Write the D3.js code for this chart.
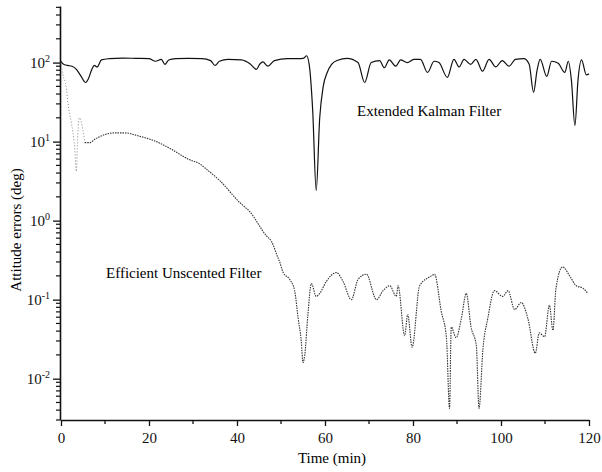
<!DOCTYPE html>
<html>
<head>
<meta charset="utf-8">
<script src="https://cdn.jsdelivr.net/npm/d3@7"></script>
<style>
  body { margin: 0; background: #fff; }
  svg { display: block; font-family: "Liberation Serif", "Times New Roman", serif; }
</style>
</head>
<body>
<svg id="chart" width="602" height="472"></svg>
<script>
// Extended Kalman Filter attitude error (deg)
const ekfTime = [0, 0.5, 1.5, 2.5, 3.5, 4.5, 5.6, 6.2, 7, 7.6,
  8.2, 9.2, 11, 14, 17, 20, 21.5, 22.8, 23.6, 24.5,
  26, 29, 32, 34, 35, 36, 38, 41, 43, 44.4,
  45.2, 45.9, 47, 48.5, 51.5, 54, 55.2, 55.8, 56.4, 57.2,
  58, 58.8, 59.6, 60.5, 61.5, 62.9, 65, 67.5, 69, 70.5,
  72.4, 73.5, 74.6, 76.1, 77.2, 78.7, 80.2, 81.7, 83.3, 84.8,
  85.9, 87.8, 89.3, 90.5, 91.6, 93.1, 94.3, 95.8, 97.3, 98.8,
  100.3, 101.8, 103.3, 105.2, 106.4, 107.4, 108.2, 108.9, 110.4, 111.5,
  113, 114.5, 115.3, 116, 116.8, 117.5, 118.3, 119.4, 120];
const ekfErr = [104, 96, 92, 90, 82, 68, 56, 62, 82, 92,
  88, 108, 112, 114, 113, 112, 104, 110, 95, 108,
  112, 113, 112, 106, 92, 104, 110, 108, 96, 82,
  96, 102, 90, 106, 112, 112, 114, 122, 95, 25,
  2.4, 20, 50, 75, 95, 107, 113, 100, 56, 100,
  106, 86, 108, 90, 108, 100, 110, 110, 75, 104,
  100, 65, 110, 88, 110, 95, 110, 78, 110, 88,
  106, 90, 110, 112, 95, 42, 80, 110, 67, 104,
  98, 75, 104, 60, 16, 60, 108, 70, 72];

// Efficient Unscented Filter attitude error (deg)
const ukfTime = [0, 0.45, 1.2, 1.6, 2.3, 3.1, 3.5, 3.8, 4.2, 5,
  5.4, 6.5, 7.7, 10, 12.3, 14.5, 17.6, 21.3, 25.1, 28.9,
  31.6, 33, 36.1, 40.6, 42.9, 46.7, 47.8, 49.3, 49.7, 50.5,
  52, 53.1, 53.9, 54.6, 55, 55.4, 56.1, 56.9, 58, 58.8,
  60.3, 62.6, 64.1, 66, 67.5, 69.4, 71.7, 73.2, 74.7, 76.2,
  76.6, 78.1, 78.8, 79.8, 81.5, 84.2, 84.9, 86.4, 87.6, 88.3,
  88.7, 89.8, 91, 92.1, 93.2, 94.4, 95, 95.9, 97, 98.5,
  100.4, 101.6, 103.1, 104.6, 106.1, 107.8, 108.7, 109.9, 111, 111.8,
  112.5, 114, 115.6, 117.1, 118.6, 119.7];
const ukfErr = [100, 70, 48, 30, 18, 8.5, 4.2, 12, 20, 13.6,
  9.7, 9.7, 10.7, 12.3, 12.9, 12.9, 11.8, 10.2, 8.0, 6.0,
  5.2, 4.5, 3.2, 1.7, 1.3, 0.64, 0.55, 0.34, 0.30, 0.22,
  0.18, 0.13, 0.058, 0.03, 0.016, 0.02, 0.063, 0.16, 0.11, 0.12,
  0.17, 0.22, 0.17, 0.10, 0.18, 0.21, 0.10, 0.13, 0.15, 0.11,
  0.15, 0.035, 0.065, 0.025, 0.15, 0.20, 0.21, 0.072, 0.033, 0.0042,
  0.045, 0.033, 0.058, 0.12, 0.045, 0.026, 0.0042, 0.024, 0.058, 0.13,
  0.11, 0.13, 0.075, 0.092, 0.058, 0.021, 0.038, 0.034, 0.085, 0.041,
  0.14, 0.26, 0.20, 0.15, 0.14, 0.12];

const xTicks = [0, 20, 40, 60, 80, 100, 120];
const xMinorTicks = [10, 30, 50, 70, 90, 110];
const yTickExp = [-2, -1, 0, 1, 2];

const svg = d3.select("#chart");

const x = d3.scaleLinear().domain([0, 120]).range([61, 589]);
const y = d3.scaleLog().domain([0.003, 520]).range([420, 6]);

// minor ticks on log axis: 2..9 times each decade, inside the domain
const yMinor = [];
for (let e = -3; e <= 2; e++) {
  for (let k = 2; k <= 9; k++) {
    const v = k * Math.pow(10, e);
    if (v >= y.domain()[0] && v <= y.domain()[1]) yMinor.push(v);
  }
}

// minor ticks drawn as plain lines
svg.append("g")
  .selectAll("line")
  .data(xMinorTicks)
  .join("line")
  .attr("x1", d => x(d)).attr("x2", d => x(d))
  .attr("y1", 420).attr("y2", 424)
  .attr("stroke", "#111").attr("stroke-width", 1.3);

svg.append("g")
  .selectAll("line")
  .data(yMinor)
  .join("line")
  .attr("x1", 56).attr("x2", 60)
  .attr("y1", d => y(d)).attr("y2", d => y(d))
  .attr("stroke", "#111").attr("stroke-width", 1.2);

// major axes
svg.append("g")
  .attr("transform", "translate(0,420)")
  .call(d3.axisBottom(x).tickValues(xTicks).tickSize(6).tickSizeOuter(0).tickPadding(6))
  .call(g => g.selectAll("text").attr("font-size", 15).attr("font-family", "Liberation Serif").attr("fill", "#111"));

const yAxis = svg.append("g")
  .attr("transform", "translate(60,0)")
  .call(d3.axisLeft(y).tickValues(yTickExp.map(e => Math.pow(10, e))).tickSize(7).tickSizeOuter(0).tickPadding(3));

yAxis.selectAll("text")
  .attr("font-size", 15).attr("font-family", "Liberation Serif").attr("fill", "#111")
  .each(function(d) {
    const t = d3.select(this).text(null);
    t.append("tspan").text("10");
    t.append("tspan").attr("font-size", 10).attr("dy", "-0.55em")
      .text(String(Math.round(Math.log10(d))));
  });

svg.selectAll(".domain").attr("stroke-width", 1.6).attr("stroke", "#111");
svg.selectAll(".tick line").attr("stroke-width", 1.3).attr("stroke", "#111");

// axis titles
svg.append("text")
  .attr("x", 332).attr("y", 463)
  .attr("text-anchor", "middle")
  .attr("font-size", 15)
  .text("Time (min)");

svg.append("text")
  .attr("transform", "translate(21,230) rotate(-90)")
  .attr("text-anchor", "middle")
  .attr("font-size", 15)
  .text("Attitude errors (deg)");

// series
const ekf = ekfTime.map((t, i) => [t, ekfErr[i]]);
const ukf = ukfTime.map((t, i) => [t, ukfErr[i]]);

const line = d3.line()
  .x(d => x(d[0]))
  .y(d => y(d[1]))
  .curve(d3.curveMonotoneX);

svg.append("path")
  .datum(ukf.filter(d => d[0] <= 5.4))
  .attr("fill", "none")
  .attr("stroke", "#888")
  .attr("stroke-width", 1)
  .attr("stroke-dasharray", "1,2")
  .attr("d", line);

svg.append("path")
  .datum(ukf.filter(d => d[0] >= 5.4))
  .attr("fill", "none")
  .attr("stroke", "#333")
  .attr("stroke-width", 1.1)
  .attr("stroke-dasharray", "1.5,1")
  .attr("d", line);

svg.append("path")
  .datum(ekf)
  .attr("fill", "none")
  .attr("stroke", "#111")
  .attr("stroke-width", 1.2)
  .attr("d", line);

// annotations
svg.append("text")
  .attr("x", 357).attr("y", 116)
  .attr("font-size", 15)
  .text("Extended Kalman Filter");

svg.append("text")
  .attr("x", 106).attr("y", 278)
  .attr("font-size", 15)
  .text("Efficient Unscented Filter");
</script>
</body>
</html>
